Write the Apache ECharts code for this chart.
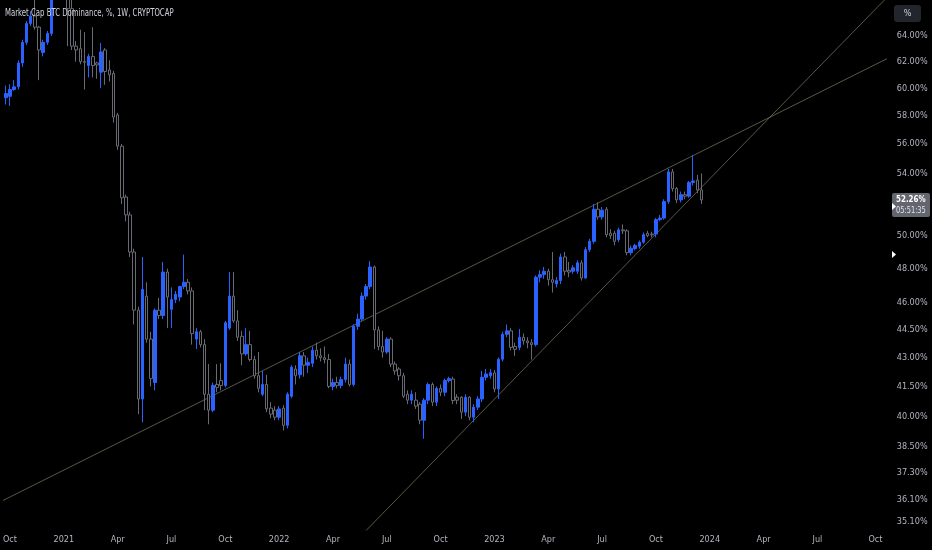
<!DOCTYPE html>
<html>
<head>
<meta charset="utf-8">
<script src="https://cdn.jsdelivr.net/npm/echarts@6/dist/echarts.min.js"></script>
<style>
html,body{margin:0;padding:0;background:#000;}
#main{width:932px;height:550px;}
</style>
</head>
<body>
<div id="main"></div>
<script>
// ---- data (weekly candles, CRYPTOCAP:BTC.D) ----
const firstWeek = '2020-09-28';
const weekCount = 213; // category slots on the time axis (incl. empty future)
const opens = [59.3,59.4,59.9,60.1,61.9,63.5,65.0,65.6,64.7,62.7,63.5,64.2,67.6,70.5,72.5,69.5,66.2,63.2,63.0,62.0,
61.7,62.4,61.9,61.2,62.9,61.37,61.1,58.05,55.85,52.45,51.3,49.0,45.6,40.86,46.4,44.0,41.7,45.6,45.3,47.8,
45.65,46.2,46.35,46.95,47.2,46.7,44.0,44.4,43.7,41.1,40.3,41.6,41.8,41.55,44.6,46.4,45.0,44.15,43.2,43.7,
42.9,42.05,41.1,41.6,40.4,40.3,39.95,40.4,39.55,41.0,42.4,42.1,43.1,42.6,42.7,43.4,43.1,43.0,42.9,41.5,
41.7,41.55,41.85,42.66,41.6,44.7,45.1,46.4,46.95,48.1,44.5,43.6,43.3,44.0,42.66,42.4,42.05,41.1,40.8,40.8,
40.6,39.8,40.8,41.6,40.7,41.4,41.2,41.8,41.88,40.95,40.95,40.2,40.95,39.95,40.45,40.86,41.97,42.05,42.2,41.37,
42.92,44.26,44.45,43.6,43.55,44.1,43.9,43.8,43.7,47.5,47.65,47.85,47.35,47.1,47.3,48.7,47.9,47.85,47.85,48.35,
47.45,49.14,49.65,51.66,51.17,51.66,50.15,50.15,49.75,50.36,50.3,48.96,49.2,49.35,49.6,50.15,50.1,50.1,51.0,51.1,
52.15,54.1,53.0,52.26,52.6,52.5,53.4,53.55,52.9];
const closes = [59.6,59.9,60.1,61.9,63.5,65.0,65.6,64.7,62.9,63.5,64.2,67.6,70.5,72.5,69.5,66.2,63.2,62.9,62.0,61.95,
62.4,61.7,61.75,62.75,61.25,61.0,57.9,55.85,52.4,51.3,49.0,45.6,40.86,46.78,44.0,41.9,45.6,45.3,47.8,46.35,
46.2,46.5,46.95,47.2,46.7,44.3,44.4,43.7,41.1,40.3,41.55,41.45,41.55,44.9,46.4,45.0,44.1,43.2,43.7,42.9,
42.05,41.4,41.6,40.36,40.1,39.95,40.36,39.55,41.1,42.5,42.05,43.1,42.6,42.75,43.4,43.1,43.0,42.9,41.5,41.7,
41.55,41.85,42.66,41.6,44.7,45.1,46.4,46.95,48.1,44.5,43.6,43.3,44.0,42.66,42.3,42.05,41.0,40.8,41.1,40.5,
39.8,40.8,41.6,40.7,41.4,41.2,41.8,41.9,40.78,40.8,40.2,40.95,39.95,40.45,40.86,41.97,42.14,42.2,41.37,42.92,
44.26,44.45,43.55,43.45,44.1,43.9,43.8,43.7,47.5,47.65,47.85,47.35,47.2,47.3,48.7,47.85,47.8,48.05,48.35,47.45,
49.14,49.65,51.66,51.17,51.6,50.06,50.0,49.65,50.36,50.3,48.96,49.23,49.4,49.6,50.06,50.0,50.05,51.0,51.1,52.15,
54.1,53.0,52.26,52.6,52.5,53.4,53.5,52.9,52.26];
const lows = [58.8,58.7,59.8,59.9,61.6,63.3,64.8,64.5,60.6,62.4,63.3,64.0,67.3,69.5,67.5,63.2,62.9,62.0,61.8,59.9,
60.8,60.8,60.7,60.0,60.25,60.5,57.5,55.6,52.0,50.9,48.7,44.8,40.1,39.7,43.8,41.5,41.3,45.1,45.1,44.6,
44.6,46.0,46.1,46.8,46.5,43.7,43.46,43.55,40.3,39.6,40.2,41.2,41.3,41.45,44.5,44.9,43.9,42.6,43.1,42.8,
41.9,41.2,41.0,40.2,39.9,39.8,39.8,39.3,39.4,40.9,41.6,41.9,42.0,42.2,42.5,42.9,42.8,42.7,41.4,41.3,
41.4,41.4,41.7,41.5,41.5,44.5,45.0,46.2,46.8,43.46,43.4,43.0,43.2,42.5,42.1,41.8,40.9,40.6,40.6,40.36,
39.6,38.9,40.6,40.5,40.5,41.0,41.0,41.7,40.6,40.6,39.86,40.0,39.8,39.7,40.3,40.7,41.8,41.9,41.2,40.86,
42.8,44.1,43.4,43.1,43.4,43.7,43.5,42.9,43.6,47.2,47.4,47.0,46.6,46.9,47.1,47.6,47.5,47.7,47.7,47.3,
47.4,49.0,49.5,51.0,51.0,49.9,49.8,49.4,49.6,50.1,48.8,48.8,49.1,49.2,49.5,49.9,49.9,49.9,50.9,51.0,
52.0,52.8,52.05,52.1,52.3,52.4,53.2,52.7,52.0];
const highs = [60.2,60.3,60.6,62.1,63.7,65.2,66.0,67.5,64.8,63.7,64.4,68.5,71.0,73.5,73.6,71.0,67.5,63.6,64.5,64.3,
62.6,64.7,62.0,63.45,63.05,62.1,61.3,58.2,56.0,52.6,51.5,49.2,45.8,48.7,47.2,44.4,45.7,46.3,48.4,48.0,
46.9,46.7,47.0,48.84,47.4,46.9,44.6,44.5,44.0,42.66,41.7,42.66,42.7,45.0,47.8,47.8,45.6,44.45,44.6,44.45,
43.1,43.3,42.3,42.1,40.7,40.5,40.5,40.55,41.2,42.6,42.6,43.3,43.3,43.0,43.6,43.8,43.5,43.6,43.2,41.9,
42.0,42.0,43.0,42.9,44.8,45.4,46.6,47.1,48.45,48.2,44.7,44.45,44.1,44.1,42.8,42.5,42.2,41.3,41.3,41.2,
40.7,40.9,41.7,41.7,41.5,41.6,41.9,42.0,42.0,41.1,41.0,41.1,41.0,40.6,41.0,42.3,42.4,42.4,42.35,43.0,
44.4,44.8,44.6,43.8,44.55,44.3,44.1,44.0,47.6,47.9,48.1,48.0,49.0,47.5,48.9,49.0,48.4,48.2,48.5,48.5,
49.3,49.8,52.0,52.1,51.8,51.8,50.4,50.3,50.5,50.7,50.4,49.4,49.5,49.7,50.2,50.3,50.25,51.1,51.3,52.3,
54.3,54.3,53.1,52.8,52.8,53.5,55.25,53.9,54.0];
// trend lines: [week index, value]
const upperTrend = [[-3, 35.83], [214, 62.42]];
const lowerTrend = [[86.9, 34.71], [214, 67.55]];
const priceTicks = [64, 62, 60, 58, 56, 54, 50, 48, 46, 44.5, 43, 41.5, 40, 38.5, 37.3, 36.1, 35.1];
const monthNames = ['Jan','Feb','Mar','Apr','May','Jun','Jul','Aug','Sep','Oct','Nov','Dec'];
const countdown = '05:51:35';
const titleText = 'Market Cap BTC Dominance, %, 1W, CRYPTOCAP';

// ---- build ----
const categories = [];
const t0 = Date.parse(firstWeek + 'T00:00:00Z');
for (let i = 0; i < weekCount; i++) {
  const d = new Date(t0 + i * 7 * 86400000);
  categories.push(d.toISOString().slice(0, 10));
}
const candles = opens.map((o, i) => [o, closes[i], lows[i], highs[i]]);
const lastClose = closes[closes.length - 1];

function isQuarterStart(idx) {
  const d = new Date(categories[idx] + 'T00:00:00Z');
  return d.getUTCDate() <= 7 && d.getUTCMonth() % 3 === 0;
}

const FONT = "'Liberation Sans Narrow','DejaVu Sans Condensed','Arial Narrow','Roboto Condensed','Liberation Sans',sans-serif";
const UP = '#2962ff';
const DOWN_EDGE = '#676a73';
const TREND = 'rgba(140,150,118,0.6)';

const chart = echarts.init(document.getElementById('main'), null, {renderer: 'canvas'});
chart.setOption({
  backgroundColor: '#000000',
  animation: false,
  textStyle: {fontFamily: FONT},
  grid: {left: -1.25, top: 0, width: 887, height: 530},
  xAxis: [{
    type: 'category', data: categories, boundaryGap: true,
    axisLine: {show: false}, axisTick: {show: false}, splitLine: {show: false},
    axisLabel: {
      color: '#b2b5be', fontSize: 9, fontFamily: FONT, margin: 5,
      interval: (idx) => isQuarterStart(idx),
      formatter: (val) => {
        const d = new Date(val + 'T00:00:00Z');
        const m = d.getUTCMonth();
        return m === 0 ? String(d.getUTCFullYear()) : monthNames[m];
      }
    }
  }, {
    type: 'value', min: -0.5, max: weekCount - 0.5, show: false
  }],
  yAxis: {
    type: 'log', position: 'right', min: 34.75, max: 66.91,
    axisLine: {show: false}, axisTick: {show: false}, splitLine: {show: false},
    axisLabel: {
      customValues: priceTicks,
      color: '#b2b5be', fontSize: 9, fontFamily: FONT, margin: 11, align: 'left',
      formatter: (v) => Number(v).toFixed(2) + '%'
    }
  },
  series: [{
    type: 'line', xAxisIndex: 1, data: upperTrend, showSymbol: false, clip: true,
    lineStyle: {color: TREND, width: 1}, silent: true, z: 1
  }, {
    type: 'line', xAxisIndex: 1, data: lowerTrend, showSymbol: false, clip: true,
    lineStyle: {color: TREND, width: 1}, silent: true, z: 1
  }, {
    type: 'candlestick',
    data: candles,
    barWidth: 3,
    clip: true,
    z: 2,
    itemStyle: {
      color: UP, borderColor: UP,
      color0: '#000000', borderColor0: DOWN_EDGE,
      borderWidth: 1
    }
  }]
});

// title (condensed like the reference) and price tag tied to the last close
const py = chart.convertToPixel({yAxisIndex: 0}, lastClose);
const tagX = 892;
chart.setOption({
  graphic: [
    {type: 'text', x: 5, y: 13, scaleX: 0.77, z: 100,
     style: {text: titleText, fill: '#d1d4dc', font: '10px ' + FONT, verticalAlign: 'middle'}},
    {type: 'rect', shape: {x: 894, y: 5, width: 27, height: 17, r: 3}, style: {fill: '#22252c'}},
    {type: 'text', x: 907.5, y: 13.5, style: {text: '%', fill: '#d1d4dc', font: '9px ' + FONT, align: 'center', verticalAlign: 'middle'}},
    {type: 'rect', shape: {x: tagX, y: py - 7, width: 38, height: 24, r: 2}, style: {fill: '#63666f'}},
    {type: 'text', x: tagX + 4, y: py, scaleX: 0.88, style: {text: lastClose.toFixed(2) + '%', fill: '#ffffff', font: 'bold 9px ' + FONT, verticalAlign: 'middle'}},
    {type: 'text', x: tagX + 4, y: py + 11, scaleX: 0.82, style: {text: countdown, fill: '#e0e3eb', font: '9px ' + FONT, verticalAlign: 'middle'}},
    {type: 'polygon', shape: {points: [[892, py + 3], [896, py + 6.5], [892, py + 10]]}, style: {fill: '#ffffff'}},
    {type: 'polygon', shape: {points: [[892, 251], [896, 254.5], [892, 258]]}, style: {fill: '#ffffff'}}
  ]
});
</script>
</body>
</html>
